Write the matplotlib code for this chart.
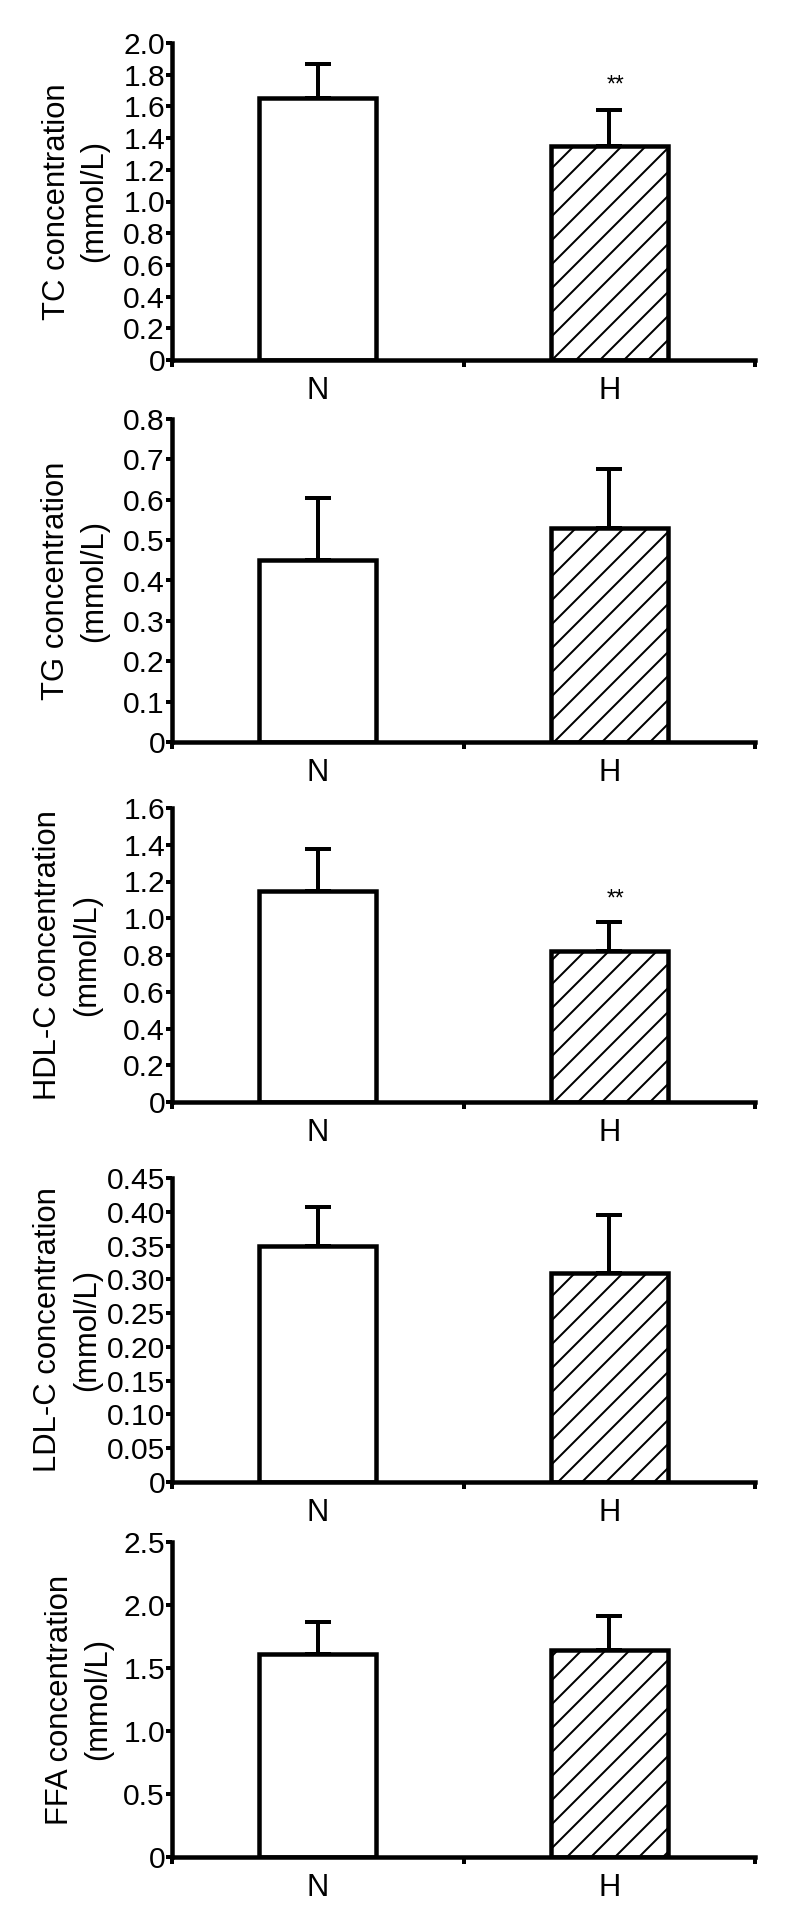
import numpy as np
import matplotlib
matplotlib.use('Agg')
import matplotlib.pyplot as plt

# dados (media e erro padrao)
grupos = ['N', 'H']
nomes = ['TC', 'TG', 'HDL-C', 'LDL-C', 'FFA']
media_N = [1.65, 0.45, 1.15, 0.35, 1.61]
media_H = [1.35, 0.53, 0.82, 0.31, 1.645]
erro_N = [0.216, 0.154, 0.225, 0.057, 0.253]
erro_H = [0.227, 0.146, 0.158, 0.085, 0.27]
signif = [True, False, True, False, False]

ymax = [2.0, 0.8, 1.6, 0.45, 2.5]
yticks = [
    [0, 0.2, 0.4, 0.6, 0.8, 1.0, 1.2, 1.4, 1.6, 1.8, 2.0],
    [0, 0.1, 0.2, 0.3, 0.4, 0.5, 0.6, 0.7, 0.8],
    [0, 0.2, 0.4, 0.6, 0.8, 1.0, 1.2, 1.4, 1.6],
    [0, 0.05, 0.10, 0.15, 0.20, 0.25, 0.30, 0.35, 0.40, 0.45],
    [0, 0.5, 1.0, 1.5, 2.0, 2.5],
]
ytick_labels = [
    ['0', '0.2', '0.4', '0.6', '0.8', '1.0', '1.2', '1.4', '1.6', '1.8', '2.0'],
    ['0', '0.1', '0.2', '0.3', '0.4', '0.5', '0.6', '0.7', '0.8'],
    ['0', '0.2', '0.4', '0.6', '0.8', '1.0', '1.2', '1.4', '1.6'],
    ['0', '0.05', '0.10', '0.15', '0.20', '0.25', '0.30', '0.35', '0.40', '0.45'],
    ['0', '0.5', '1.0', '1.5', '2.0', '2.5'],
]

# posicoes em pixels: (topo, base) de cada painel e linha de base das 2 linhas do rotulo y
W, H = 796, 1926
DPI = 144
esq, dir_ = 172, 755
paineis = [(43, 360), (419, 742), (808, 1102), (1178, 1482), (1542, 1857)]
rotulo_x = [(65, 102), (64, 102), (56, 95), (56, 95), (68, 106)]

plt.rcParams['font.family'] = ['Liberation Sans', 'DejaVu Sans']
plt.rcParams['hatch.linewidth'] = 1.0
plt.rcParams['hatch.color'] = 'black'

fig = plt.figure(figsize=(W / DPI, H / DPI), dpi=DPI)

x = np.arange(len(grupos))
for i in range(len(nomes)):
    topo, base = paineis[i]
    ax = fig.add_axes([esq / W, (H - base) / H, (dir_ - esq) / W, (base - topo) / H])

    ax.bar(x[0], media_N[i], width=0.4, color='white', edgecolor='black', linewidth=2.25, zorder=2)
    ax.bar(x[1], media_H[i], width=0.4, color='white', edgecolor='black', linewidth=2.25,
           hatch='//', zorder=2)
    ax.errorbar(x, [media_N[i], media_H[i]],
                yerr=[[0, 0], [erro_N[i], erro_H[i]]],
                fmt='none', ecolor='black', elinewidth=2, capsize=6.5, capthick=2, zorder=3)

    if signif[i]:
        ax.text(1.02, media_H[i] + erro_H[i] + 0.058 * ymax[i], '**', ha='center', va='baseline',
                fontsize=11.5)

    ax.set_xlim(-0.5, 1.5)
    ax.set_ylim(0, ymax[i])
    ax.set_yticks(yticks[i])
    ax.set_yticklabels(ytick_labels[i])
    ax.set_xticks(x)
    ax.set_xticklabels(grupos)
    ax.set_xticks([-0.5, 0.5, 1.5], minor=True)

    for s in ['top', 'right']:
        ax.spines[s].set_visible(False)
    for s in ['left', 'bottom']:
        ax.spines[s].set_linewidth(2.25)

    ax.tick_params(axis='y', direction='out', length=3, width=2, pad=0.5, labelsize=15)
    ax.tick_params(axis='x', which='major', length=0, pad=8, labelsize=15.5)
    ax.tick_params(axis='x', which='minor', direction='out', length=3.5, width=2)

    # rotulo do eixo y em duas linhas
    x1, x2 = rotulo_x[i]
    ax.text((x1 - esq) / (dir_ - esq), 0.5, nomes[i] + ' concentration', transform=ax.transAxes,
            rotation=90, rotation_mode='anchor', ha='center', va='baseline', fontsize=15.5)
    ax.text((x2 - esq) / (dir_ - esq), 0.5, '(mmol/L)', transform=ax.transAxes,
            rotation=90, rotation_mode='anchor', ha='center', va='baseline', fontsize=15.5)

plt.savefig('out.png', dpi=DPI)
